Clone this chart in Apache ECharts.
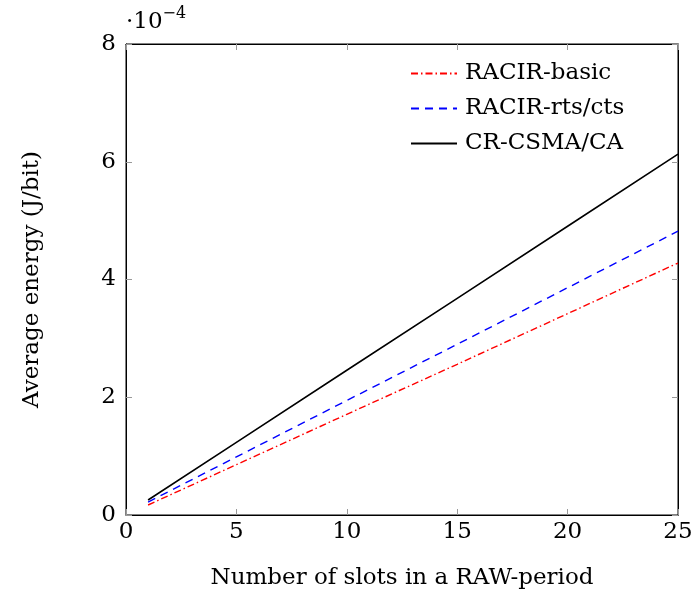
<!DOCTYPE html>
<html><head><meta charset="utf-8">
<script src="https://cdn.jsdelivr.net/npm/echarts@6/dist/echarts.min.js"></script>
<style>html,body{margin:0;padding:0;background:#fff}#c{width:691px;height:590px}</style>
</head><body><div id="c"></div>
<script>
const slots = [1, 5, 10, 15, 20, 25];
const racirBasic = [0.17, 0.855, 1.71, 2.56, 3.42, 4.28];
const racirRts = [0.22, 0.987, 1.945, 2.90, 3.86, 4.82];
const crCsma = [0.255, 1.234, 2.458, 3.68, 4.905, 6.13];
const xTicks = [0, 5, 10, 15, 20, 25];
const yTicks = [0, 2, 4, 6, 8];

const F = 'DejaVu Serif';
const FS = 23;
const chart = echarts.init(document.getElementById('c'));
const pair = (xs, ys) => xs.map((x, i) => [x, ys[i]]);
const tick = () => ({show: true, inside: true, length: 6, lineStyle: {color: '#999', width: 1}});
const line = () => ({show: true, onZero: false, lineStyle: {color: '#000', width: 1}});
chart.setOption({
  animation: false,
  textStyle: {fontFamily: F},
  grid: {left: 126, right: 13, top: 44, bottom: 75, show: true, borderColor: '#000', borderWidth: 1,
         containLabel: false, outerBoundsMode: 'none'},
  legend: {
    top: 62, left: 410, orient: 'vertical', itemGap: 12, padding: 0,
    itemWidth: 46, itemHeight: 14,
    itemStyle: {opacity: 0},
    textStyle: {fontFamily: F, fontSize: FS, color: '#000', padding: [0, 0, 0, 3]},
    data: ['RACIR-basic', 'RACIR-rts/cts', 'CR-CSMA/CA']
  },
  xAxis: [{
    type: 'value', min: 0, max: 25, interval: 5,
    name: 'Number of slots in a RAW-period', nameLocation: 'middle', nameGap: 52,
    nameTextStyle: {fontFamily: F, fontSize: FS, color: '#000'},
    axisLine: line(), axisTick: tick(),
    axisLabel: {fontFamily: F, fontSize: FS, color: '#000', margin: 6, formatter: v => xTicks.includes(v) ? String(v) : ''},
    splitLine: {show: false}
  }, {
    type: 'value', position: 'top', min: 0, max: 25, interval: 5,
    axisLine: line(), axisTick: tick(), axisLabel: {show: false}, splitLine: {show: false}
  }],
  yAxis: [{
    type: 'value', min: 0, max: 8, interval: 2,
    name: 'Average energy (J/bit)', nameLocation: 'middle', nameGap: 82, nameRotate: 90,
    nameTextStyle: {fontFamily: F, fontSize: FS, color: '#000'},
    axisLine: line(), axisTick: tick(),
    axisLabel: {fontFamily: F, fontSize: FS, color: '#000', margin: 10, formatter: v => yTicks.includes(v) ? String(v) : ''},
    splitLine: {show: false}
  }, {
    type: 'value', position: 'right', min: 0, max: 8, interval: 2,
    axisLine: line(), axisTick: tick(), axisLabel: {show: false}, splitLine: {show: false}
  }],
  graphic: [{
    type: 'text', left: 126, top: 6,
    style: {
      text: '{a|·10}{b|−4}', fill: '#000',
      rich: {a: {fontFamily: F, fontSize: FS, verticalAlign: 'bottom'},
             b: {fontFamily: F, fontSize: 16, verticalAlign: 'top', padding: [0, 0, 12, 0]}}
    }
  }],
  series: [{
    name: 'RACIR-basic', type: 'line', symbol: 'none', data: pair(slots, racirBasic),
    lineStyle: {color: '#ff0000', width: 1.4, type: [7, 3, 1.5, 3]}, itemStyle: {color: '#ff0000'}
  }, {
    name: 'RACIR-rts/cts', type: 'line', symbol: 'none', data: pair(slots, racirRts),
    lineStyle: {color: '#0000ff', width: 1.4, type: [8, 6]}, itemStyle: {color: '#0000ff'}
  }, {
    name: 'CR-CSMA/CA', type: 'line', symbol: 'none', data: pair(slots, crCsma),
    lineStyle: {color: '#000', width: 1.6, type: 'solid'}, itemStyle: {color: '#000'}
  }, {
    name: 'frame', type: 'line', xAxisIndex: 1, yAxisIndex: 1, data: [], silent: true
  }]
});
</script></body></html>
